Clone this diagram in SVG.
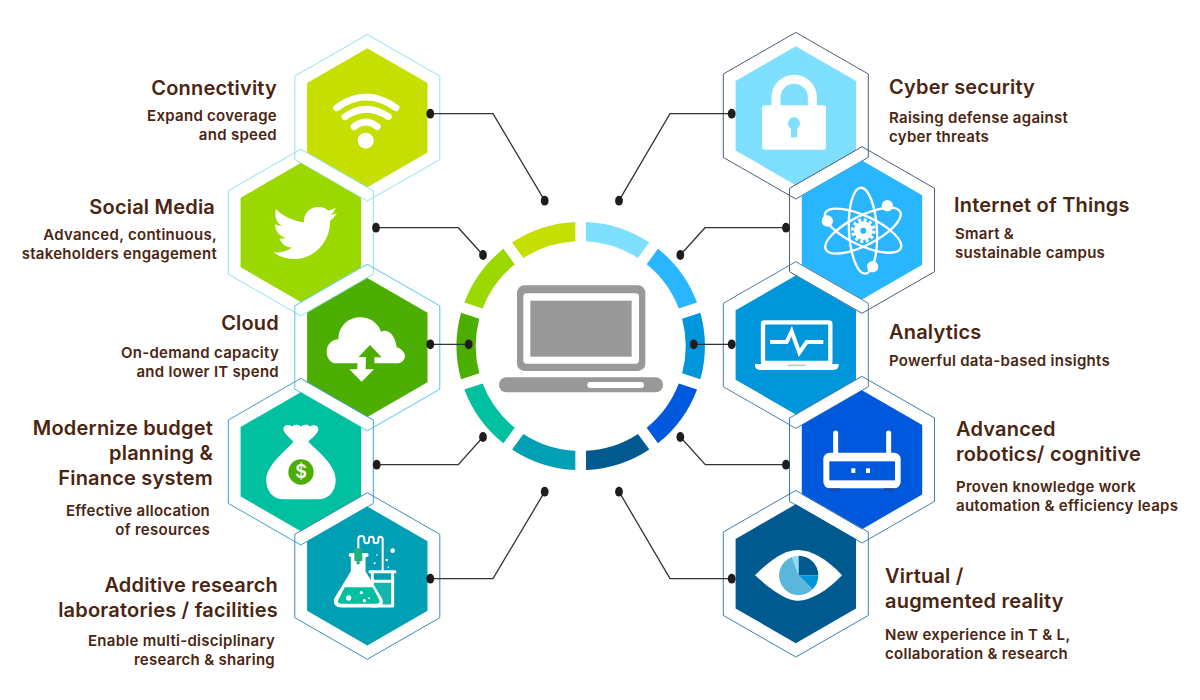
<svg xmlns="http://www.w3.org/2000/svg" width="1200" height="700" viewBox="0 0 1200 700">
<style>
text{font-family:"Inter","Liberation Sans",sans-serif;fill:#4a2511}
.t{font-size:20px;font-weight:600;letter-spacing:.2px}
.s{font-size:15px;font-weight:600;letter-spacing:.28px}
.e{text-anchor:end}
.o{fill:none;stroke-width:1}
.w{fill:#fff}
.ws{fill:none;stroke:#fff;stroke-linecap:round;stroke-linejoin:round}
.c{fill:none;stroke:#333;stroke-width:1.3}
.d{fill:#1f1c1d}
</style>
<defs>
<polygon id="ho" points="0,-83.3 72.5,-41.7 72.5,41.7 0,83.3 -72.5,41.7 -72.5,-41.7"/>
<polygon id="hi" points="0,-69.5 60.2,-34.7 60.2,34.7 0,69.5 -60.2,34.7 -60.2,-34.7"/>
<path id="seg" d="M586.05,221.92 A124.2,124.2 0 0 1 649.3,242.5 L638,258 A105,105 0 0 0 586.05,241.14 Z"/>
<ellipse id="dot" rx="3.9" ry="4.9"/>
</defs>
<rect width="1200" height="700" fill="#fff"/>

<g id="ring">
<use href="#seg" fill="#7fdfff"/>
<use href="#seg" fill="#29b6ff" transform="rotate(36 580.7 346)"/>
<use href="#seg" fill="#0096dc" transform="rotate(72 580.7 346)"/>
<use href="#seg" fill="#0059dc" transform="rotate(108 580.7 346)"/>
<use href="#seg" fill="#005a90" transform="rotate(144 580.7 346)"/>
<use href="#seg" fill="#009fb4" transform="rotate(180 580.7 346)"/>
<use href="#seg" fill="#00c0a0" transform="rotate(216 580.7 346)"/>
<use href="#seg" fill="#4cae00" transform="rotate(252 580.7 346)"/>
<use href="#seg" fill="#9ad800" transform="rotate(288 580.7 346)"/>
<use href="#seg" fill="#c5e000" transform="rotate(324 580.7 346)"/>
</g>

<g id="laptop" transform="translate(440 190) scale(.33333)">
<rect x="231" y="286" width="385" height="257" rx="22" fill="#999"/>
<rect x="250" y="310" width="347" height="211" rx="10" fill="#fff"/>
<rect x="271" y="332" width="304" height="168" fill="#999"/>
<rect x="177" y="562" width="492" height="45" rx="22" fill="#999"/>
<rect x="442" y="576" width="170" height="18" rx="9" fill="#fff"/>
</g>

<g id="connectivity">
<use href="#ho" x="367.3" y="117.8" class="o" stroke="#8fe3f2"/>
<use href="#hi" x="367.3" y="117.8" fill="#c5e000"/>
<circle cx="365.7" cy="140.7" r="8" class="w"/>
<path class="ws" stroke-width="6.8" d="M336.7,107.7 Q366,86.3 396,107.7 M345,116.7 Q366,101.9 388.3,116.7 M354,126.7 Q366,117.3 377.3,126.7"/>
<text class="t e" x="277" y="94.5">Connectivity</text>
<text class="s e" x="277" y="121">Expand coverage</text>
<text class="s e" x="277" y="139.5">and speed</text>
</g>

<g id="social-media">
<use href="#ho" x="300.8" y="232.5" class="o" stroke="#8fe3f2"/>
<use href="#hi" x="300.8" y="232.5" fill="#9ad800"/>
<path class="w" transform="translate(220 20) scale(.33333)" d="M168,567 C190,590 220,603 252,607 C250,580 270,560 297,561 C310,561 320,567 325,572 L347,564 C343,574 337,582 330,586 L351,580 C345,590 337,597 330,603 C332,660 285,717 225,717 C200,717 178,710 160,697 C180,699 200,693 216,683 C197,682 184,672 178,655 C185,656 190,656 197,654 C178,648 165,633 165,612 C170,615 177,617 185,618 C168,605 162,585 168,567 Z"/>
<text class="t e" x="215" y="214">Social Media</text>
<text class="s e" x="217" y="240">Advanced, continuous,</text>
<text class="s e" x="217" y="259">stakeholders engagement</text>
</g>

<g id="cloud">
<use href="#ho" x="367.3" y="347.5" class="o" stroke="#4fc9ea"/>
<use href="#hi" x="367.3" y="347.5" fill="#4cae00"/>
<g transform="translate(220 270) scale(.33333)">
<path class="w" d="M350,280 C330,280 320,262 320,245 C320,225 335,208 355,208 C355,170 385,142 420,142 C450,142 475,160 483,185 C500,175 525,190 530,232 C545,235 555,250 555,258 C555,270 545,280 530,280 Z"/>
<path fill="#4cae00" d="M450,225 L485,262 L463,262 L463,300 L437,300 L437,262 L415,262 Z"/>
<path class="w" d="M412,262 H437 V298 H462 L425,335 L388,298 H412 Z"/>
</g>
<text class="t e" x="279" y="330">Cloud</text>
<text class="s e" x="279" y="357.5">On-demand capacity</text>
<text class="s e" x="279" y="376.5">and lower IT spend</text>
</g>

<g id="finance">
<use href="#ho" x="300.8" y="461.7" class="o" stroke="#3f9fcb"/>
<use href="#hi" x="300.8" y="461.7" fill="#00c0a0"/>
<g transform="translate(220 270) scale(.33333)">
<path class="w" d="M190,478 C190,462 210,462 216,470 C222,462 238,462 243,470 C250,462 265,462 270,470 C278,462 297,465 295,480 C293,490 280,500 265,515 C300,550 347,585 347,630 C347,665 325,688 295,688 L190,688 C160,688 139,665 139,630 C139,585 190,550 220,515 C205,500 192,490 190,478 Z"/>
<circle cx="243" cy="606" r="38" fill="#4cae00"/>
</g>
<text x="301" y="478" text-anchor="middle" style="font-size:18px;font-weight:600;fill:#fff">$</text>
<text class="t e" x="213" y="435">Modernize budget</text>
<text class="t e" x="213" y="460">planning &amp;</text>
<text class="t e" x="213" y="485">Finance system</text>
<text class="s e" x="210" y="516">Effective allocation</text>
<text class="s e" x="210" y="534.5">of resources</text>
</g>

<g id="research-labs">
<use href="#ho" x="367.3" y="576" class="o" stroke="#3a8bbd"/>
<use href="#hi" x="367.3" y="576" fill="#009fb4"/>
<g transform="translate(220 270) scale(.33333)">
<path fill="#14b5ae" d="M458,934 H518 V1006 H458 Z"/>
<path class="ws" stroke-width="9" d="M450,905 H525 M457,905 V1008 H518 V905 M458,934 H516"/>
<path class="ws" stroke-width="6" d="M415,838 V807 A9,9 0 0 1 433,807 V813 A7,7 0 0 0 447,813 V807 A7,7 0 0 1 461,807 V813 A7,7 0 0 0 475,813 V807 A6.5,6.5 0 0 1 488,807 V905"/>
<path fill="#fff" stroke="#fff" stroke-width="9" stroke-linejoin="round" d="M397,855 V905 L347,987 Q342,1008 365,1008 H468 Q490,1008 482,987 L432,905 V855 Z"/>
<path class="ws" stroke-width="12" d="M392,855 H440"/>
<path fill="#00c0a0" d="M374,952 H458 L478,990 Q482,1001 468,1001 H365 Q350,1001 355,990 Z"/>
<rect x="403" y="835" width="24" height="38" fill="#1fb07c"/>
<rect x="410" y="870" width="9" height="13" fill="#1fb07c"/>
<g class="w"><circle cx="518" cy="842" r="7"/><circle cx="500" cy="870" r="4"/><circle cx="471" cy="855" r="2.5"/><circle cx="464" cy="880" r="3"/><circle cx="505" cy="892" r="2.5"/><circle cx="424" cy="968" r="5"/><circle cx="386" cy="984" r="8"/><circle cx="433" cy="992" r="5"/><circle cx="447" cy="985" r="3"/></g>
</g>
<text class="t e" x="278" y="591.7">Additive research</text>
<text class="t e" x="278" y="616.7">laboratories / facilities</text>
<text class="s e" x="275" y="646">Enable multi-disciplinary</text>
<text class="s e" x="275" y="665">research &amp; sharing</text>
</g>

<g id="cyber-security">
<use href="#ho" x="795.8" y="115.7" class="o" stroke="#4d5f7a"/>
<use href="#hi" x="795.8" y="115.7" fill="#7fdfff"/>
<g transform="translate(710 20) scale(.33333)">
<path class="ws" stroke-width="27" d="M198,262 V232 A54.5,54.5 0 0 1 307,232 V262" style="stroke-linecap:butt"/>
<rect x="156" y="256" width="192" height="133" rx="8" class="w"/>
<circle cx="252" cy="310" r="18" fill="#7fdfff"/>
<rect x="243" y="315" width="18" height="37" fill="#7fdfff"/>
</g>
<text class="t" x="889" y="94">Cyber security</text>
<text class="s" x="889" y="123.3">Raising defense against</text>
<text class="s" x="889" y="142.3">cyber threats</text>
</g>

<g id="internet-of-things">
<use href="#ho" x="862" y="230" class="o" stroke="#4d5f7a"/>
<use href="#hi" x="862" y="230" fill="#29b6ff"/>
<g transform="translate(710 20) scale(.33333)">
<g fill="none" stroke="#fff" stroke-width="7">
<ellipse cx="459" cy="632" rx="125" ry="44" transform="rotate(25 459 632)"/>
<ellipse cx="459" cy="632" rx="125" ry="44" transform="rotate(-27 459 632)"/>
<ellipse cx="459" cy="632" rx="129" ry="42" transform="rotate(87 459 632)"/>
</g>
<circle cx="352" cy="603" r="17" class="w"/><circle cx="532" cy="557" r="17" class="w"/><circle cx="488" cy="740" r="17" class="w"/>
<circle cx="460" cy="632" r="28" class="w"/>
<circle cx="460" cy="632" r="32" fill="none" stroke="#fff" stroke-width="10" stroke-dasharray="9 7.76"/>
<circle cx="460" cy="632" r="9" fill="#29b6ff"/>
</g>
<text class="t" x="954" y="211.5">Internet of Things</text>
<text class="s" x="955" y="239">Smart &amp;</text>
<text class="s" x="955" y="257.5">sustainable campus</text>
</g>

<g id="analytics">
<use href="#ho" x="795.8" y="345" class="o" stroke="#4f7ea8"/>
<use href="#hi" x="795.8" y="345" fill="#0096dc"/>
<g transform="translate(710 270) scale(.33333)">
<rect x="159" y="157" width="202" height="122" rx="4" fill="none" stroke="#fff" stroke-width="13"/>
<path class="w" d="M135,282 H386 V286 Q386,300 370,300 H150 Q135,300 135,286 Z"/>
<rect x="233" y="283" width="54" height="6" fill="#ccc"/>
<path fill="none" stroke="#fff" stroke-width="12" d="M180,216 H230 L245,184 L268,248 L290,216 H340"/>
</g>
<text class="t" x="889" y="339">Analytics</text>
<text class="s" x="889" y="366">Powerful data-based insights</text>
</g>

<g id="robotics">
<use href="#ho" x="862" y="459.7" class="o" stroke="#3f80ae"/>
<use href="#hi" x="862" y="459.7" fill="#0059dc"/>
<g transform="translate(710 270) scale(.33333)">
<path class="ws" stroke-width="15" d="M377,489 V550 M536,489 V550"/>
<rect x="340" y="548" width="232" height="107" rx="20" class="w"/>
<rect x="358" y="574" width="197" height="57" fill="#0059dc"/>
<rect x="424" y="595" width="12" height="14" class="w"/><rect x="468" y="595" width="12" height="14" class="w"/>
<rect x="358" y="655" width="32" height="7" fill="#23478a"/><rect x="522" y="655" width="32" height="7" fill="#23478a"/>
</g>
<text class="t" x="956" y="436">Advanced</text>
<text class="t" x="956" y="461">robotics/ cognitive</text>
<text class="s" x="956" y="492">Proven knowledge work</text>
<text class="s" x="956" y="511">automation &amp; efficiency leaps</text>
</g>

<g id="virtual-reality">
<use href="#ho" x="795.8" y="573.7" class="o" stroke="#3f80ae"/>
<use href="#hi" x="795.8" y="573.7" fill="#005a90"/>
<g transform="translate(710 270) scale(.33333)">
<path class="w" d="M135,916 C190,860 230,840 265,840 C300,840 350,865 396,916 C350,965 300,992 265,992 C230,992 190,965 135,916 Z"/>
<path fill="#5ab6da" d="M266,916 L308,958 A59,59 0 1 1 246,861 Z"/>
<path fill="#8fdcf5" d="M266,916 L246,861 A59,59 0 0 1 266,857 Z"/>
<path fill="#005a90" d="M266,916 V857 A59,59 0 0 1 325,916 Z"/>
<path fill="#0096dc" d="M266,916 H325 A59,59 0 0 1 308,958 Z"/>
</g>
<text class="t" x="885" y="583">Virtual /</text>
<text class="t" x="885" y="608">augmented reality</text>
<text class="s" x="885" y="640">New experience in T &amp; L,</text>
<text class="s" x="885" y="659">collaboration &amp; research</text>
</g>

<g id="connectors">
<path class="c" d="M430.3,113.7 H493 L544.7,200.7"/>
<path class="c" d="M376,227.7 H458.3 L483,255"/>
<path class="c" d="M430.3,344.3 H468.7"/>
<path class="c" d="M376.7,464.7 H458.3 L483,437"/>
<path class="c" d="M430.3,578.7 H493 L544.7,491.7"/>
<path class="c" d="M731.7,113.7 H670 L619,200.7"/>
<path class="c" d="M786,227.7 H705 L680.3,255"/>
<path class="c" d="M731.7,344.3 H693.7"/>
<path class="c" d="M786,464.7 H705.3 L680.3,437"/>
<path class="c" d="M731.7,578.7 H670 L619,491.7"/>
<g class="d">
<use href="#dot" x="430.3" y="113.7"/><use href="#dot" x="544.7" y="200.7"/>
<use href="#dot" x="376" y="227.7"/><use href="#dot" x="483" y="255"/>
<use href="#dot" x="430.3" y="344.3"/><use href="#dot" x="468.7" y="344.3"/>
<use href="#dot" x="376.7" y="464.7"/><use href="#dot" x="483" y="437"/>
<use href="#dot" x="430.3" y="578.7"/><use href="#dot" x="544.7" y="491.7"/>
<use href="#dot" x="731.7" y="113.7"/><use href="#dot" x="619" y="200.7"/>
<use href="#dot" x="786" y="227.7"/><use href="#dot" x="680.3" y="255"/>
<use href="#dot" x="731.7" y="344.3"/><use href="#dot" x="693.7" y="344.3"/>
<use href="#dot" x="786" y="464.7"/><use href="#dot" x="680.3" y="437"/>
<use href="#dot" x="731.7" y="578.7"/><use href="#dot" x="619" y="491.7"/>
</g>
</g>
</svg>
